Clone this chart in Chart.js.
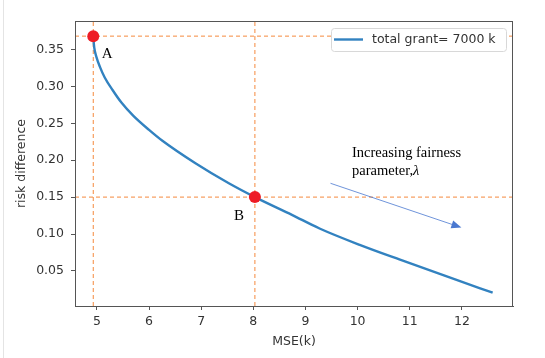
<!DOCTYPE html>
<html>
<head>
<meta charset="utf-8">
<script src="https://cdn.jsdelivr.net/npm/chart.js@4"></script>
<style>
  html, body { margin: 0; padding: 0; background: #fff; }
  #wrap { position: relative; width: 545px; height: 358px; }
  #wrap::before { content: ''; position: absolute; left: 3px; top: 0; bottom: 0; border-left: 1px solid #e4e4e4; }
</style>
</head>
<body>
<div id="wrap"><canvas id="chart" width="545" height="358"></canvas></div>
<script>
// Dados
const mseK = [4.93, 4.95, 4.99, 5.06, 5.15, 5.30, 5.47, 5.70, 6.00, 6.25, 6.89, 7.53, 8.03, 8.74, 9.27, 10.04, 10.80, 11.87, 12.59];
const riskDiff = [0.367, 0.352, 0.340, 0.326, 0.312, 0.295, 0.278, 0.260, 0.241, 0.2266, 0.1958, 0.1687, 0.150, 0.126, 0.1075, 0.0853, 0.0655, 0.0385, 0.0205];
const pointLabels = ['A', 'B'];
const pointX = [4.93, 8.03];
const pointY = [0.368, 0.150];
const xTicks = [5, 6, 7, 8, 9, 10, 11, 12];
const yTicks = [0.05, 0.10, 0.15, 0.20, 0.25, 0.30, 0.35];
const xRange = [4.58, 12.98];
const yRange = [0.0025, 0.3885];
const seriesLabel = 'total grant= 7000 k';
const arrowFrom = [9.48, 0.1687];
const arrowTo = [11.99, 0.1087];

const tickFont = { family: 'DejaVu Sans', size: 12.5 };
const textColor = '#333';

// Linhas tracejadas de referência
const guides = [];
pointX.forEach((x, i) => {
    guides.push({ data: [{ x: x, y: yRange[0] }, { x: x, y: yRange[1] }] });
    guides.push({ data: [{ x: xRange[0], y: pointY[i] }, { x: xRange[1], y: pointY[i] }] });
});

const datasets = [
    {
        label: 'points',
        data: pointX.map((x, i) => ({ x: x, y: pointY[i] })),
        showLine: false,
        pointRadius: 6,
        pointBackgroundColor: '#ee1c25',
        pointBorderWidth: 0
    },
    {
        label: seriesLabel,
        data: mseK.map((x, i) => ({ x: x, y: riskDiff[i] })),
        showLine: true,
        borderColor: '#3282c0',
        borderWidth: 2.4,
        pointRadius: 0,
        cubicInterpolationMode: 'monotone'
    }
].concat(guides.map(g => ({
    label: 'guide',
    data: g.data,
    showLine: true,
    borderColor: '#f5893d',
    borderWidth: 1,
    borderDash: [4, 3],
    pointRadius: 0
})));

// Moldura, legenda e anotações
const extras = {
    id: 'extras',
    afterDraw(chart) {
        const ctx = chart.ctx;
        const a = chart.chartArea;
        const sx = chart.scales.x, sy = chart.scales.y;
        ctx.save();
        ctx.strokeStyle = '#555';
        ctx.lineWidth = 1;
        ctx.strokeRect(a.left + 0.5, a.top + 0.5, a.right - a.left - 1, a.bottom - a.top);

        // letras A e B
        ctx.fillStyle = '#000';
        ctx.font = '15px "Liberation Serif"';
        ctx.textAlign = 'center';
        ctx.textBaseline = 'middle';
        const offs = [[14, 18], [-16, 19]];
        pointLabels.forEach((t, i) => {
            ctx.fillText(t, sx.getPixelForValue(pointX[i]) + offs[i][0], sy.getPixelForValue(pointY[i]) + offs[i][1]);
        });

        // texto e seta
        ctx.textAlign = 'left';
        ctx.font = '14.5px "Liberation Serif"';
        ctx.fillText('Increasing fairness', 352, 153);
        ctx.fillText('parameter,', 352, 171);
        const w = ctx.measureText('parameter,').width;
        ctx.font = 'italic 14.5px "Liberation Serif"';
        ctx.fillText('λ', 352 + w, 171);

        const x1 = sx.getPixelForValue(arrowFrom[0]), y1 = sy.getPixelForValue(arrowFrom[1]);
        const x2 = sx.getPixelForValue(arrowTo[0]), y2 = sy.getPixelForValue(arrowTo[1]);
        const ang = Math.atan2(y2 - y1, x2 - x1);
        ctx.strokeStyle = '#4a78d0';
        ctx.fillStyle = '#4a78d0';
        ctx.lineWidth = 0.8;
        ctx.beginPath();
        ctx.moveTo(x1, y1);
        ctx.lineTo(x2 - 8 * Math.cos(ang), y2 - 8 * Math.sin(ang));
        ctx.stroke();
        ctx.beginPath();
        ctx.moveTo(x2, y2);
        ctx.lineTo(x2 - 10 * Math.cos(ang) + 4 * Math.sin(ang), y2 - 10 * Math.sin(ang) - 4 * Math.cos(ang));
        ctx.lineTo(x2 - 10 * Math.cos(ang) - 4 * Math.sin(ang), y2 - 10 * Math.sin(ang) + 4 * Math.cos(ang));
        ctx.closePath();
        ctx.fill();

        // legenda
        const lx = 331, ly = 28, lw = 175, lh = 23;
        ctx.fillStyle = '#fff';
        ctx.strokeStyle = '#d8d8d8';
        ctx.lineWidth = 1;
        ctx.beginPath();
        ctx.roundRect(lx + 0.5, ly + 0.5, lw, lh, 3);
        ctx.fill();
        ctx.stroke();
        ctx.strokeStyle = '#3282c0';
        ctx.lineWidth = 2.4;
        ctx.beginPath();
        ctx.moveTo(334, 39.5);
        ctx.lineTo(363, 39.5);
        ctx.stroke();
        ctx.fillStyle = textColor;
        ctx.font = '12.5px "DejaVu Sans"';
        ctx.textBaseline = 'middle';
        ctx.fillText(seriesLabel, 372, 40);
        ctx.restore();
    }
};

new Chart(document.getElementById('chart'), {
    type: 'scatter',
    data: { datasets: datasets },
    options: {
        responsive: false,
        animation: false,
        layout: { padding: { left: 0, top: 21, right: 32, bottom: 0 } },
        plugins: { legend: { display: false }, tooltip: { enabled: false } },
        scales: {
            x: {
                type: 'linear',
                min: xRange[0],
                max: xRange[1],
                afterBuildTicks: axis => { axis.ticks = xTicks.map(v => ({ value: v })); },
                afterFit: axis => { axis.height = 52; },
                ticks: { font: tickFont, color: textColor, padding: 4, maxRotation: 0, callback: v => String(v) },
                grid: { drawOnChartArea: false, drawTicks: true, tickLength: 4, color: '#555' },
                border: { display: true, color: '#555' },
                title: { display: true, text: 'MSE(k)', font: tickFont, color: textColor, padding: { top: 0, bottom: 9 } }
            },
            y: {
                type: 'linear',
                min: yRange[0],
                max: yRange[1],
                afterBuildTicks: axis => { axis.ticks = yTicks.map(v => ({ value: v })); },
                afterFit: axis => { axis.width = 75; },
                ticks: { font: tickFont, color: textColor, padding: 7, callback: v => v.toFixed(2) },
                grid: { drawOnChartArea: false, drawTicks: true, tickLength: 4, color: '#555' },
                border: { display: true, color: '#555' },
                title: { display: true, text: 'risk difference', font: tickFont, color: textColor, padding: { top: 14, bottom: 0 } }
            }
        }
    },
    plugins: [extras]
});
</script>
</body>
</html>
